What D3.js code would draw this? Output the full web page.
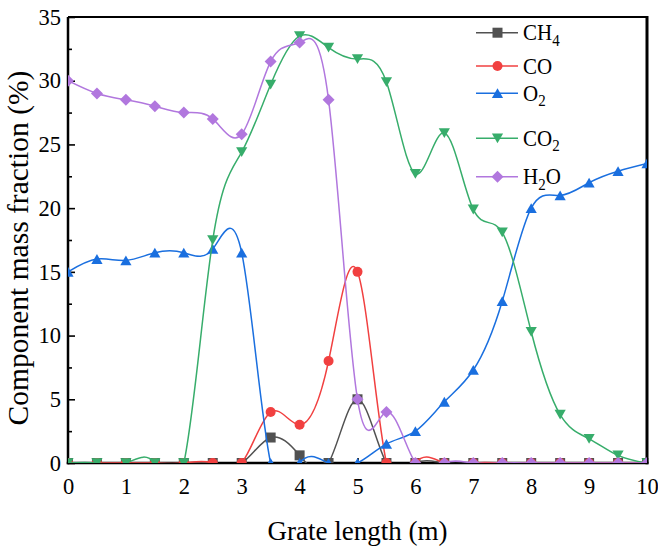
<!DOCTYPE html>
<html><head><meta charset="utf-8">
<script src="https://cdn.jsdelivr.net/npm/d3@7"></script>
<style>
html,body{margin:0;padding:0;background:#fff;}
svg{display:block;font-family:"Liberation Serif","Times New Roman",serif;}
</style></head>
<body>
<svg id="chart" width="658" height="549"></svg>
<script>
// ---- data ----
const gratePos = [0,0.5,1,1.5,2,2.5,3,3.5,4,4.5,5,5.5,6,6.5,7,7.5,8,8.5,9,9.5,10];
const ch4 = [0,0,0,0,0,0,0,2,0.6,0,5,0,0,0,0,0,0,0,0,0,0];
const co  = [0,0,0,0,0,0,0,4,3,8,15,0,0,0,0,0,0,0,0,0,0];
const o2  = [15,16,15.9,16.5,16.5,16.8,16.5,0,0,0,0,1.5,2.5,4.8,7.3,12.7,20,21,22,22.9,23.5];
const co2 = [0,0,0,0,0,17.5,24.4,29.7,33.5,32.6,31.7,29.9,22.7,25.9,19.9,18.1,10.3,3.8,1.9,0.6,0];
const h2o = [30,29,28.5,28,27.5,27,25.8,31.5,33,28.5,5,4,0,0,0,0,0,0,0,0,0];
const seriesNames = ["CH4","CO","O2","CO2","H2O"];
const xTicks = [0,1,2,3,4,5,6,7,8,9,10];
const yTicks = [0,5,10,15,20,25,30,35];

// ---- layout ----
const W = 658, H = 549;
const L = 68, R = 647, T = 17, B = 463;
const svg = d3.select("#chart");
const x = d3.scaleLinear().domain([0,10]).range([L,R]);
const y = d3.scaleLinear().domain([0,35]).range([B,T]);

const colors = {CH4:"#515151", CO:"#F14040", O2:"#1A6FDF", CO2:"#37AD6B", H2O:"#B177DE"};
const shapes = {CH4:"square", CO:"circle", O2:"up", CO2:"down", H2O:"diamond"};
const values = {CH4:ch4, CO:co, O2:o2, CO2:co2, H2O:h2o};

function markerPath(shape){
  if(shape==="square") return "M-5,-5H5V5H-5Z";
  if(shape==="circle") return "M5,0A5,5 0 1,1 -5,0A5,5 0 1,1 5,0Z";
  if(shape==="up") return "M0,-5L5.6,4.8L-5.6,4.8Z";
  if(shape==="down") return "M0,5L5.6,-4.8L-5.6,-4.8Z";
  if(shape==="diamond") return "M0,-6L6,0L0,6L-6,0Z";
}

// ---- axes ----
const fontTick = 22.5;
const xAxis = d3.axisBottom(x).tickValues(xTicks).tickSize(-5).tickPadding(15).tickFormat(d3.format("d"));
const gx = svg.append("g").attr("transform",`translate(0,${B})`).call(xAxis);
const xMinor = d3.axisBottom(x).tickValues(d3.range(0.5,10,1)).tickSize(-3).tickFormat("");
svg.append("g").attr("transform",`translate(0,${B})`).call(xMinor).select(".domain").remove();

const yAxis = d3.axisLeft(y).tickValues(yTicks).tickSize(-7).tickPadding(7).tickFormat(d3.format("d"));
const gy = svg.append("g").attr("transform",`translate(${L},0)`).call(yAxis);
const yMinor = d3.axisLeft(y).tickValues(d3.range(2.5,35,5)).tickSize(-4).tickFormat("");
svg.append("g").attr("transform",`translate(${L},0)`).call(yMinor).select(".domain").remove();

svg.selectAll(".tick line").attr("stroke","#000").attr("stroke-width",1.6);
svg.selectAll(".tick text").attr("font-size",fontTick).attr("font-family","Liberation Serif").attr("fill","#000");
gx.select(".domain").remove();
gy.select(".domain").remove();

// frame
svg.append("line").attr("x1",L).attr("x2",L).attr("y1",T).attr("y2",B+1.25).attr("stroke","#000").attr("stroke-width",2.5);
svg.append("line").attr("x1",L-1.25).attr("x2",R+1.5).attr("y1",B).attr("y2",B).attr("stroke","#000").attr("stroke-width",2.5);
svg.append("line").attr("x1",L).attr("x2",R).attr("y1",T).attr("y2",T).attr("stroke","#000").attr("stroke-width",2);
svg.append("line").attr("x1",R).attr("x2",R).attr("y1",T-1).attr("y2",B+1.25).attr("stroke","#000").attr("stroke-width",3);

// ---- data ----
svg.append("clipPath").attr("id","plotclip").append("rect")
  .attr("x",L).attr("y",T).attr("width",R-L).attr("height",B-T);
const plot = svg.append("g").attr("clip-path","url(#plotclip)");
const line = d3.line().x((d,i)=>x(gratePos[i])).y(d=>y(d)).curve(d3.curveNatural);

seriesNames.forEach(name=>{
  const g = plot.append("g");
  g.append("path").attr("d",line(values[name])).attr("fill","none")
    .attr("stroke",colors[name]).attr("stroke-width",1.5);
  g.selectAll("path.m").data(values[name]).join("path").attr("class","m")
    .attr("d",markerPath(shapes[name]))
    .attr("transform",(d,i)=>`translate(${x(gratePos[i])},${y(d)})`)
    .attr("fill",colors[name]);
});

// ---- legend ----
const legendY = [32.7, 66, 93.3, 138.3, 176.7];
const legendLabels = {
  CH4:[["CH",0],["4",1]],
  CO:[["CO",0]],
  O2:[["O",0],["2",1]],
  CO2:[["CO",0],["2",1]],
  H2O:[["H",0],["2",1],["O",0]]
};
seriesNames.forEach((name,k)=>{
  const ly = legendY[k];
  const g = svg.append("g");
  g.append("line").attr("x1",476).attr("x2",518).attr("y1",ly).attr("y2",ly)
    .attr("stroke",colors[name]).attr("stroke-width",1.5);
  g.append("path").attr("d",markerPath(shapes[name])).attr("transform",`translate(497.5,${ly})`)
    .attr("fill",colors[name]);
  const t = g.append("text").attr("transform",`translate(523,${ly+7.5}) scale(1,1.12)`)
    .attr("font-size",21).attr("fill","#000");
  let prevSub = false;
  legendLabels[name].forEach(([s,sub])=>{
    const ts = t.append("tspan").text(s);
    if(sub){ ts.attr("font-size",15).attr("dy",5); prevSub=true; }
    else if(prevSub){ ts.attr("dy",-5); prevSub=false; }
  });
});

// ---- titles ----
svg.append("text").attr("x",(L+R)/2).attr("y",540).attr("text-anchor","middle")
  .attr("font-size",27).attr("fill","#000").text("Grate length (m)");
svg.append("text").attr("transform",`translate(28,248) rotate(-90)`).attr("text-anchor","middle")
  .attr("font-size",29.5).attr("fill","#000").text("Component mass fraction (%)");
</script>
</body></html>
